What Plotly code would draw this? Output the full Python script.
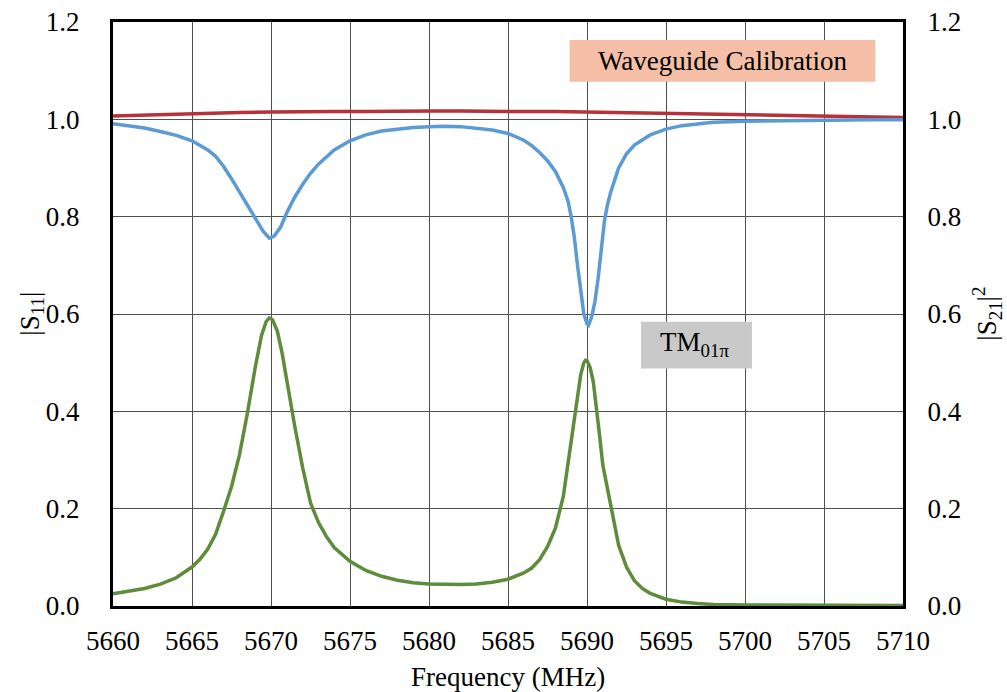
import plotly.graph_objects as go

# ---------------- data ----------------
red_freq = [5660, 5662, 5664, 5666, 5668, 5670, 5672, 5674, 5676, 5678, 5680, 5682, 5684,
            5686, 5688, 5690, 5692, 5694, 5696, 5698, 5700, 5702, 5704, 5706, 5708, 5710]
red_vals = [1.007, 1.009, 1.011, 1.012, 1.014, 1.015, 1.016, 1.016, 1.016, 1.017, 1.017, 1.017, 1.016,
            1.016, 1.016, 1.015, 1.014, 1.013, 1.012, 1.011, 1.010, 1.008, 1.007, 1.006, 1.005, 1.004]

s11_freq = [5660.0, 5661.0, 5662.0, 5663.0, 5664.0, 5665.0, 5666.0, 5666.5, 5667.0, 5667.5,
            5668.0, 5668.5, 5669.0, 5669.5, 5669.9, 5670.2, 5670.6, 5671.0, 5671.5, 5672.0,
            5672.5, 5673.0, 5674.0, 5675.0, 5676.0, 5677.0, 5678.0, 5679.0, 5680.0, 5681.0,
            5682.0, 5683.0, 5684.0, 5685.0, 5686.0, 5686.5, 5687.0, 5687.5, 5688.0, 5688.5,
            5688.8, 5689.0, 5689.2, 5689.4, 5689.6, 5689.8, 5690.0, 5690.1, 5690.3, 5690.5,
            5690.7, 5690.9, 5691.1, 5691.3, 5691.5, 5691.8, 5692.0, 5692.5, 5693.0, 5694.0,
            5695.0, 5696.0, 5697.0, 5698.0, 5700.0, 5702.0, 5705.0, 5708.0, 5710.0]
s11_vals = [0.991, 0.987, 0.982, 0.975, 0.967, 0.956, 0.937, 0.924, 0.903, 0.878,
            0.852, 0.826, 0.797, 0.770, 0.756, 0.760, 0.778, 0.808, 0.840, 0.866,
            0.889, 0.908, 0.937, 0.956, 0.968, 0.976, 0.980, 0.983, 0.985, 0.986,
            0.985, 0.982, 0.978, 0.971, 0.957, 0.946, 0.932, 0.915, 0.893, 0.860,
            0.832, 0.800, 0.757, 0.700, 0.645, 0.600, 0.580, 0.577, 0.595, 0.625,
            0.672, 0.740, 0.790, 0.825, 0.850, 0.880, 0.900, 0.929, 0.947, 0.968,
            0.980, 0.987, 0.991, 0.994, 0.996, 0.997, 0.998, 0.999, 0.999]

s21_freq = [5660.0, 5661.0, 5662.0, 5663.0, 5664.0, 5665.0, 5665.5, 5666.0, 5666.5, 5667.0,
            5667.5, 5668.0, 5668.5, 5669.0, 5669.4, 5669.7, 5669.9, 5670.1, 5670.4, 5670.7,
            5671.0, 5671.5, 5672.0, 5672.5, 5673.0, 5673.5, 5674.0, 5675.0, 5676.0, 5677.0,
            5678.0, 5679.0, 5680.0, 5681.0, 5682.0, 5683.0, 5684.0, 5685.0, 5686.0, 5686.5,
            5687.0, 5687.5, 5688.0, 5688.5, 5688.8, 5689.0, 5689.2, 5689.4, 5689.6, 5689.8,
            5689.9, 5690.0, 5690.2, 5690.4, 5690.6, 5690.8, 5691.0, 5691.3, 5691.6, 5692.0,
            5692.5, 5693.0, 5693.5, 5694.0, 5695.0, 5696.0, 5697.0, 5698.0, 5700.0, 5705.0,
            5710.0]
s21_vals = [0.025, 0.030, 0.036, 0.045, 0.058, 0.080, 0.096, 0.117, 0.148, 0.195,
            0.245, 0.310, 0.395, 0.490, 0.556, 0.585, 0.592, 0.588, 0.565, 0.520,
            0.462, 0.370, 0.285, 0.212, 0.172, 0.143, 0.120, 0.092, 0.073, 0.061,
            0.053, 0.048, 0.045, 0.044, 0.044, 0.045, 0.049, 0.055, 0.068, 0.078,
            0.095, 0.122, 0.160, 0.225, 0.290, 0.335, 0.380, 0.425, 0.475, 0.500,
            0.505, 0.504, 0.490, 0.460, 0.410, 0.350, 0.290, 0.240, 0.185, 0.125,
            0.080, 0.052, 0.036, 0.026, 0.014, 0.008, 0.005, 0.003, 0.002, 0.001,
            0.001]

x_ticks = [5660, 5665, 5670, 5675, 5680, 5685, 5690, 5695, 5700, 5705, 5710]
y_ticks = [0.0, 0.2, 0.4, 0.6, 0.8, 1.0, 1.2]

# ---------------- figure ----------------
FONT = "Times New Roman, Liberation Serif, serif"
fig = go.Figure()

fig.add_trace(go.Scatter(x=red_freq, y=red_vals, mode="lines",
                         line=dict(color="#B5323A", width=3.5), showlegend=False))
fig.add_trace(go.Scatter(x=s11_freq, y=s11_vals, mode="lines",
                         line=dict(color="#5B9BD5", width=3.5), showlegend=False))
fig.add_trace(go.Scatter(x=s21_freq, y=s21_vals, mode="lines", yaxis="y2",
                         line=dict(color="#5E8C3A", width=3.5), showlegend=False))

axis_common = dict(
    showline=True, linecolor="black", linewidth=3,
    tickfont=dict(family=FONT, size=27, color="black"),
    ticks="", zeroline=False, automargin=False,
)

fig.update_layout(
    width=1007, height=692,
    margin=dict(l=113, r=104, t=22, b=86, autoexpand=False),
    paper_bgcolor="white", plot_bgcolor="white",
    font=dict(family=FONT, color="black"),
    xaxis=dict(range=[5660, 5710], tickvals=x_ticks, showgrid=True,
               gridcolor="#505050", gridwidth=1, mirror=True,
               ticklabelstandoff=9, **axis_common),
    yaxis=dict(range=[0, 1.2], tickvals=y_ticks, tickformat=".1f", showgrid=True,
               gridcolor="#505050", gridwidth=1, ticklabelstandoff=25, **axis_common),
    yaxis2=dict(range=[0, 1.2], tickvals=y_ticks, tickformat=".1f", overlaying="y",
                side="right", showgrid=False, ticklabelstandoff=16, **axis_common),
    shapes=[
        dict(type="rect", xref="x", yref="y", x0=5688.9, x1=5708.25, y0=1.077, y1=1.163,
             fillcolor="#F4BFA6", line=dict(width=0), layer="above"),
        dict(type="rect", xref="x", yref="y", x0=5693.42, x1=5700.44, y0=0.488, y1=0.584,
             fillcolor="#C9C9C9", line=dict(width=0), layer="above"),
    ],
    annotations=[
        dict(text="Waveguide Calibration", x=5698.6, y=1.120, xref="x", yref="y",
             showarrow=False, font=dict(family=FONT, size=27, color="black"),
             xanchor="center", yanchor="middle"),
        dict(text="TM<sub>01π</sub>", x=5696.8, y=0.538, xref="x", yref="y",
             showarrow=False, font=dict(family=FONT, size=27, color="black"),
             xanchor="center", yanchor="middle"),
        dict(text="Frequency (MHz)", x=0.5, y=-0.1216, xref="paper", yref="paper",
             showarrow=False, font=dict(family=FONT, size=27, color="black"),
             xanchor="center", yanchor="middle"),
        dict(text="|S<sub>11</sub>|", x=-0.1030, y=0.5, xref="paper", yref="paper",
             showarrow=False, textangle=-90, font=dict(family=FONT, size=27, color="black"),
             xanchor="center", yanchor="middle"),
        dict(text="|S<sub>21</sub>|<sup>2</sup>", x=1.1060, y=0.5, xref="paper", yref="paper",
             showarrow=False, textangle=-90, font=dict(family=FONT, size=27, color="black"),
             xanchor="center", yanchor="middle"),
    ],
)

fig.write_html("out.html")
